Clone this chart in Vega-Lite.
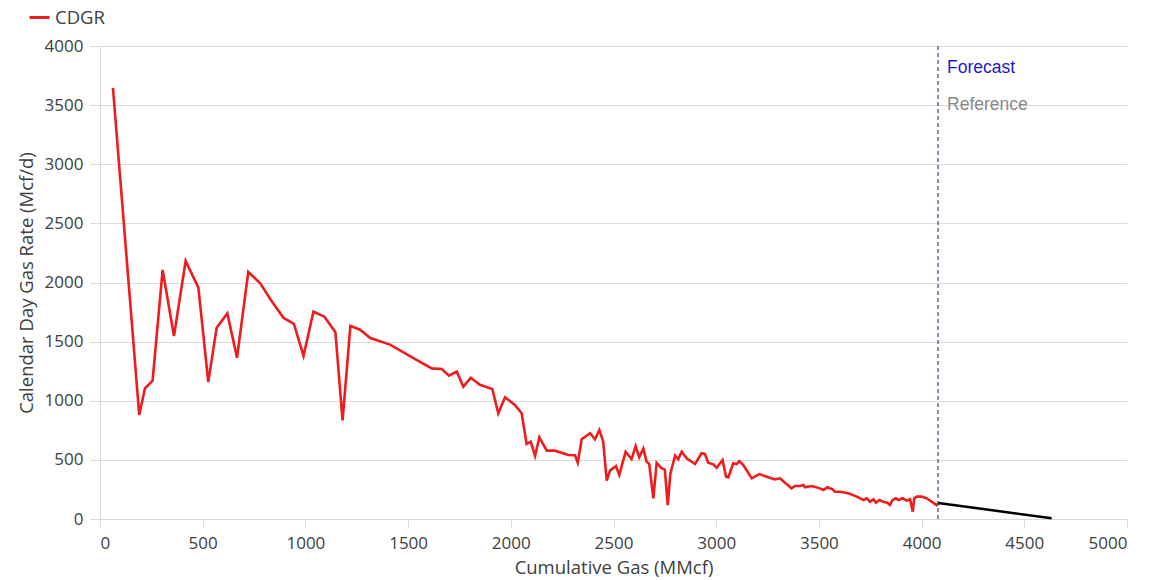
{
  "$schema": "https://vega.github.io/schema/vega-lite/v6.json",
  "width": 1027,
  "height": 473,
  "autosize": {"type": "none"},
  "padding": {"left": 100, "top": 46, "right": 42, "bottom": 61},
  "background": "white",
  "config": {
    "view": {"stroke": null},
    "font": "Open Sans",
    "axis": {
      "labelFont": "Open Sans",
      "titleFont": "Open Sans",
      "labelFontSize": 17,
      "titleFontSize": 18.5,
      "labelColor": "#404040",
      "titleColor": "#404040",
      "titleFontWeight": "normal",
      "domainColor": "#d9d9d9",
      "tickColor": "#d9d9d9",
      "gridColor": "#dcdcdc",
      "format": "d"
    }
  },
  "datasets": {
    "cdgr": [
      {"cum": 63, "rate": 3645, "series": "CDGR"},
      {"cum": 191, "rate": 880, "series": "CDGR"},
      {"cum": 219, "rate": 1105, "series": "CDGR"},
      {"cum": 256, "rate": 1170, "series": "CDGR"},
      {"cum": 305, "rate": 2106, "series": "CDGR"},
      {"cum": 360, "rate": 1548, "series": "CDGR"},
      {"cum": 417, "rate": 2182, "series": "CDGR"},
      {"cum": 479, "rate": 1956, "series": "CDGR"},
      {"cum": 527, "rate": 1159, "series": "CDGR"},
      {"cum": 568, "rate": 1618, "series": "CDGR"},
      {"cum": 620, "rate": 1739, "series": "CDGR"},
      {"cum": 667, "rate": 1364, "series": "CDGR"},
      {"cum": 722, "rate": 2089, "series": "CDGR"},
      {"cum": 779, "rate": 1995, "series": "CDGR"},
      {"cum": 841, "rate": 1829, "series": "CDGR"},
      {"cum": 894, "rate": 1700, "series": "CDGR"},
      {"cum": 944, "rate": 1650, "series": "CDGR"},
      {"cum": 991, "rate": 1380, "series": "CDGR"},
      {"cum": 1039, "rate": 1753, "series": "CDGR"},
      {"cum": 1093, "rate": 1711, "series": "CDGR"},
      {"cum": 1146, "rate": 1580, "series": "CDGR"},
      {"cum": 1181, "rate": 834, "series": "CDGR"},
      {"cum": 1219, "rate": 1634, "series": "CDGR"},
      {"cum": 1266, "rate": 1601, "series": "CDGR"},
      {"cum": 1316, "rate": 1530, "series": "CDGR"},
      {"cum": 1412, "rate": 1475, "series": "CDGR"},
      {"cum": 1509, "rate": 1378, "series": "CDGR"},
      {"cum": 1615, "rate": 1274, "series": "CDGR"},
      {"cum": 1664, "rate": 1268, "series": "CDGR"},
      {"cum": 1699, "rate": 1212, "series": "CDGR"},
      {"cum": 1737, "rate": 1246, "series": "CDGR"},
      {"cum": 1769, "rate": 1119, "series": "CDGR"},
      {"cum": 1805, "rate": 1195, "series": "CDGR"},
      {"cum": 1850, "rate": 1135, "series": "CDGR"},
      {"cum": 1910, "rate": 1100, "series": "CDGR"},
      {"cum": 1939, "rate": 894, "series": "CDGR"},
      {"cum": 1972, "rate": 1029, "series": "CDGR"},
      {"cum": 2020, "rate": 964, "series": "CDGR"},
      {"cum": 2053, "rate": 894, "series": "CDGR"},
      {"cum": 2077, "rate": 634, "series": "CDGR"},
      {"cum": 2097, "rate": 654, "series": "CDGR"},
      {"cum": 2118, "rate": 533, "series": "CDGR"},
      {"cum": 2139, "rate": 691, "series": "CDGR"},
      {"cum": 2175, "rate": 578, "series": "CDGR"},
      {"cum": 2215, "rate": 578, "series": "CDGR"},
      {"cum": 2280, "rate": 541, "series": "CDGR"},
      {"cum": 2313, "rate": 539, "series": "CDGR"},
      {"cum": 2326, "rate": 476, "series": "CDGR"},
      {"cum": 2345, "rate": 674, "series": "CDGR"},
      {"cum": 2386, "rate": 725, "series": "CDGR"},
      {"cum": 2410, "rate": 674, "series": "CDGR"},
      {"cum": 2431, "rate": 753, "series": "CDGR"},
      {"cum": 2450, "rate": 654, "series": "CDGR"},
      {"cum": 2467, "rate": 324, "series": "CDGR"},
      {"cum": 2483, "rate": 409, "series": "CDGR"},
      {"cum": 2512, "rate": 448, "series": "CDGR"},
      {"cum": 2528, "rate": 372, "series": "CDGR"},
      {"cum": 2559, "rate": 569, "series": "CDGR"},
      {"cum": 2588, "rate": 507, "series": "CDGR"},
      {"cum": 2608, "rate": 617, "series": "CDGR"},
      {"cum": 2625, "rate": 522, "series": "CDGR"},
      {"cum": 2645, "rate": 595, "series": "CDGR"},
      {"cum": 2661, "rate": 485, "series": "CDGR"},
      {"cum": 2674, "rate": 465, "series": "CDGR"},
      {"cum": 2694, "rate": 174, "series": "CDGR"},
      {"cum": 2710, "rate": 474, "series": "CDGR"},
      {"cum": 2734, "rate": 430, "series": "CDGR"},
      {"cum": 2750, "rate": 417, "series": "CDGR"},
      {"cum": 2764, "rate": 118, "series": "CDGR"},
      {"cum": 2777, "rate": 386, "series": "CDGR"},
      {"cum": 2800, "rate": 537, "series": "CDGR"},
      {"cum": 2815, "rate": 505, "series": "CDGR"},
      {"cum": 2832, "rate": 569, "series": "CDGR"},
      {"cum": 2856, "rate": 513, "series": "CDGR"},
      {"cum": 2897, "rate": 465, "series": "CDGR"},
      {"cum": 2929, "rate": 556, "series": "CDGR"},
      {"cum": 2945, "rate": 550, "series": "CDGR"},
      {"cum": 2961, "rate": 476, "series": "CDGR"},
      {"cum": 2986, "rate": 462, "series": "CDGR"},
      {"cum": 3002, "rate": 434, "series": "CDGR"},
      {"cum": 3031, "rate": 499, "series": "CDGR"},
      {"cum": 3048, "rate": 358, "series": "CDGR"},
      {"cum": 3059, "rate": 352, "series": "CDGR"},
      {"cum": 3083, "rate": 471, "series": "CDGR"},
      {"cum": 3100, "rate": 465, "series": "CDGR"},
      {"cum": 3113, "rate": 490, "series": "CDGR"},
      {"cum": 3132, "rate": 457, "series": "CDGR"},
      {"cum": 3173, "rate": 344, "series": "CDGR"},
      {"cum": 3210, "rate": 380, "series": "CDGR"},
      {"cum": 3246, "rate": 358, "series": "CDGR"},
      {"cum": 3286, "rate": 335, "series": "CDGR"},
      {"cum": 3311, "rate": 344, "series": "CDGR"},
      {"cum": 3335, "rate": 307, "series": "CDGR"},
      {"cum": 3367, "rate": 259, "series": "CDGR"},
      {"cum": 3384, "rate": 279, "series": "CDGR"},
      {"cum": 3408, "rate": 279, "series": "CDGR"},
      {"cum": 3424, "rate": 288, "series": "CDGR"},
      {"cum": 3432, "rate": 268, "series": "CDGR"},
      {"cum": 3465, "rate": 279, "series": "CDGR"},
      {"cum": 3505, "rate": 259, "series": "CDGR"},
      {"cum": 3522, "rate": 245, "series": "CDGR"},
      {"cum": 3541, "rate": 268, "series": "CDGR"},
      {"cum": 3567, "rate": 251, "series": "CDGR"},
      {"cum": 3578, "rate": 231, "series": "CDGR"},
      {"cum": 3603, "rate": 231, "series": "CDGR"},
      {"cum": 3643, "rate": 217, "series": "CDGR"},
      {"cum": 3684, "rate": 189, "series": "CDGR"},
      {"cum": 3717, "rate": 161, "series": "CDGR"},
      {"cum": 3733, "rate": 175, "series": "CDGR"},
      {"cum": 3749, "rate": 146, "series": "CDGR"},
      {"cum": 3765, "rate": 166, "series": "CDGR"},
      {"cum": 3778, "rate": 138, "series": "CDGR"},
      {"cum": 3794, "rate": 161, "series": "CDGR"},
      {"cum": 3813, "rate": 146, "series": "CDGR"},
      {"cum": 3833, "rate": 138, "series": "CDGR"},
      {"cum": 3846, "rate": 118, "series": "CDGR"},
      {"cum": 3859, "rate": 161, "series": "CDGR"},
      {"cum": 3875, "rate": 175, "series": "CDGR"},
      {"cum": 3887, "rate": 161, "series": "CDGR"},
      {"cum": 3908, "rate": 175, "series": "CDGR"},
      {"cum": 3928, "rate": 155, "series": "CDGR"},
      {"cum": 3944, "rate": 166, "series": "CDGR"},
      {"cum": 3957, "rate": 62, "series": "CDGR"},
      {"cum": 3964, "rate": 175, "series": "CDGR"},
      {"cum": 3977, "rate": 189, "series": "CDGR"},
      {"cum": 4001, "rate": 189, "series": "CDGR"},
      {"cum": 4025, "rate": 175, "series": "CDGR"},
      {"cum": 4049, "rate": 146, "series": "CDGR"},
      {"cum": 4073, "rate": 118, "series": "CDGR"},
      {"cum": 4085, "rate": 133, "series": "CDGR"}
    ],
    "forecast": [
      {"cum": 4081, "rate": 136},
      {"cum": 4633, "rate": 6}
    ],
    "marker": [
      {"cum": 4080}
    ],
    "notes": [
      {"cum": 4080, "rate": 3815, "label": "Forecast"},
      {"cum": 4080, "rate": 3500, "label": "Reference"}
    ]
  },
  "layer": [
    {
      "data": {"name": "cdgr"},
      "mark": {"type": "line", "strokeWidth": 2.6, "interpolate": "linear"},
      "encoding": {
        "x": {
          "field": "cum", "type": "quantitative",
          "scale": {"domain": [0, 5000], "nice": false},
          "axis": {
            "title": "Cumulative Gas (MMcf)",
            "values": [0, 500, 1000, 1500, 2000, 2500, 3000, 3500, 4000, 4500, 5000],
            "grid": false,
            "tickSize": 8,
            "labelPadding": 8,
            "titlePadding": 7
          }
        },
        "y": {
          "field": "rate", "type": "quantitative",
          "scale": {"domain": [0, 4000], "nice": false},
          "axis": {
            "title": "Calendar Day Gas Rate (Mcf/d)",
            "values": [0, 500, 1000, 1500, 2000, 2500, 3000, 3500, 4000],
            "grid": true,
            "tickSize": 10,
            "labelPadding": 7,
            "titlePadding": 8
          }
        },
        "color": {
          "field": "series", "type": "nominal",
          "scale": {"domain": ["CDGR"], "range": ["#ee1c1c"]},
          "legend": {
            "title": null,
            "orient": "none",
            "legendX": -72,
            "legendY": -40,
            "symbolType": "stroke",
            "symbolStrokeWidth": 3,
            "symbolSize": 400,
            "labelFontSize": 18.5,
            "labelFont": "Open Sans",
            "labelColor": "#404040"
          }
        }
      }
    },
    {
      "data": {"name": "forecast"},
      "mark": {"type": "line", "color": "#000000", "strokeWidth": 2.6},
      "encoding": {
        "x": {"field": "cum", "type": "quantitative"},
        "y": {"field": "rate", "type": "quantitative"}
      }
    },
    {
      "data": {"name": "marker"},
      "mark": {"type": "rule", "color": "#3f3f7a", "strokeDash": [4, 3], "strokeWidth": 1.2},
      "encoding": {
        "x": {"field": "cum", "type": "quantitative"}
      }
    },
    {
      "data": {"name": "notes"},
      "mark": {"type": "text", "font": "Liberation Sans", "fontSize": 17.5, "align": "left", "baseline": "middle", "dx": 9},
      "encoding": {
        "x": {"field": "cum", "type": "quantitative"},
        "y": {"field": "rate", "type": "quantitative"},
        "text": {"field": "label"},
        "color": {
          "field": "label", "type": "nominal",
          "scale": {"domain": ["Forecast", "Reference"], "range": ["#1a1ad0", "#8a8a8a"]},
          "legend": null
        }
      }
    }
  ],
  "resolve": {"scale": {"color": "independent"}}
}
